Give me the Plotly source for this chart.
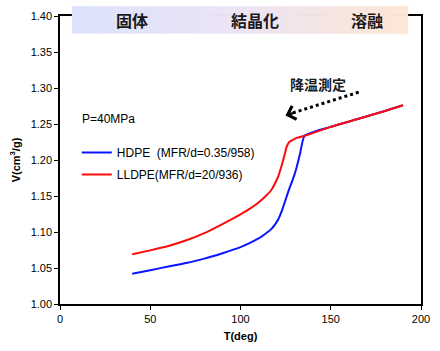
import plotly.graph_objects as go

# ---- data ----
HDPE_T = [40, 50, 60, 70, 80, 90, 100, 105, 110, 114, 117, 119, 121, 123, 125, 127, 129, 131, 133, 135.5, 150, 165, 180, 190]
HDPE_V = [1.042, 1.047, 1.052, 1.057, 1.063, 1.0705, 1.079, 1.0845, 1.091, 1.098, 1.104, 1.110, 1.118, 1.130, 1.145, 1.160, 1.173, 1.189, 1.209, 1.2336, 1.246, 1.257, 1.268, 1.276]
LLDPE_T = [40, 50, 60, 70, 80, 90, 100, 105, 110, 114, 117, 119, 121, 123, 124.5, 125.5, 127, 129, 131.5, 135.5, 150, 165, 180, 190]
LLDPE_V = [1.069, 1.0745, 1.0805, 1.0885, 1.0985, 1.111, 1.1245, 1.132, 1.141, 1.150, 1.158, 1.167, 1.178, 1.194, 1.208, 1.218, 1.225, 1.228, 1.231, 1.2336, 1.246, 1.257, 1.268, 1.276]
SERIES_NAMES = ["HDPE\u00a0\u00a0(MFR/d=0.35/958)", "LLDPE(MFR/d=20/936)"]
PHASE_LABELS = ["固体", "結晶化", "溶融"]
ARROW_LABEL = "降温測定"
PRESSURE_LABEL = "P=40MPa"
X_TICKS = [0, 50, 100, 150, 200]
Y_TICKS = [1.00, 1.05, 1.10, 1.15, 1.20, 1.25, 1.30, 1.35, 1.40]

W, H = 440, 351
ML, MR, MT, MB = 60, 15, 10, 46
PW, PH = W - ML - MR, H - MT - MB

def px_x(p):
    return (p - ML) / PW

def px_y(p):
    return (H - MB - p) / PH

fig = go.Figure()
fig.add_trace(go.Scatter(x=HDPE_T, y=HDPE_V, mode="lines", name=SERIES_NAMES[0],
                         line=dict(color="#0a14ff", width=2, shape="spline", smoothing=0.5), legendgroup="a"))
fig.add_trace(go.Scatter(x=LLDPE_T, y=LLDPE_V, mode="lines", name=SERIES_NAMES[1],
                         line=dict(color="#ff0a0a", width=2, shape="spline", smoothing=0.5), legendgroup="b"))

# gradient banner
shapes = []
x0p, x1p = 72, 412
stops = [(0.0, (219, 226, 251)), (0.5, (236, 228, 245)), (1.0, (253, 230, 211))]
def col(t):
    for (t0, c0), (t1, c1) in zip(stops[:-1], stops[1:]):
        if t <= t1:
            f = (t - t0) / (t1 - t0)
            return "rgb(%d,%d,%d)" % tuple(round(a + (b - a) * f) for a, b in zip(c0, c1))
    return "rgb(%d,%d,%d)" % stops[-1][1]
N = 170
for i in range(N):
    a = x0p + (x1p - x0p) * i / N
    b = x0p + (x1p - x0p) * (i + 1) / N + 0.6
    shapes.append(dict(type="rect", xref="paper", yref="paper",
                       x0=px_x(a), x1=px_x(min(b, x1p)), y0=px_y(28), y1=px_y(0),
                       fillcolor=col((i + 0.5) / N), line=dict(width=0), layer="above"))

# dotted arrow line
shapes.append(dict(type="line", xref="paper", yref="paper",
                   x0=px_x(362), y0=px_y(88), x1=px_x(293), y1=px_y(110),
                   line=dict(color="black", width=3, dash="dot"), layer="above"))
fig.update_layout(shapes=shapes)

ann = []
for lab, cx in zip(PHASE_LABELS, [133, 257, 370]):
    ann.append(dict(text="<b>%s</b>" % lab, xref="paper", yref="paper", x=px_x(cx), y=px_y(14),
                    showarrow=False, font=dict(family="Noto Sans CJK JP", size=16, color="#1a1a1a"),
                    xanchor="center", yanchor="middle"))
ann.append(dict(text="<b>%s</b>" % ARROW_LABEL, xref="paper", yref="paper", x=px_x(321), y=px_y(80),
                showarrow=False, font=dict(family="Noto Sans CJK JP", size=14, color="#1a1a1a"),
                xanchor="center", yanchor="middle"))
ann.append(dict(text="", xref="paper", yref="paper", x=px_x(288), y=px_y(112),
                ax=9, ay=-3, axref="pixel", ayref="pixel",
                showarrow=True, arrowhead=4, arrowsize=1.1, arrowwidth=2.5, arrowcolor="black"))
ann.append(dict(text=PRESSURE_LABEL, xref="paper", yref="paper", x=px_x(80), y=px_y(116),
                showarrow=False, font=dict(family="Liberation Sans", size=12, color="black"),
                xanchor="left", yanchor="middle"))
fig.update_layout(annotations=ann)

axis_common = dict(showline=True, linecolor="black", linewidth=1.5, mirror=True,
                   ticks="outside", ticklen=4, tickcolor="black", showgrid=False, zeroline=False,
                   tickfont=dict(family="Liberation Sans", size=11, color="black"))
fig.update_xaxes(range=[0, 200], tickvals=X_TICKS, **axis_common,
                 title=dict(text="<b>T(deg)</b>", font=dict(family="Liberation Sans", size=11, color="black"), standoff=8))
fig.update_yaxes(range=[1.0, 1.4], tickvals=Y_TICKS, tickformat=".2f", **axis_common,
                 title=dict(text="<b>V(cm<sup>3</sup>/g)</b>", font=dict(family="Liberation Sans", size=11, color="black"), standoff=8))

fig.update_layout(
    width=W, height=H, margin=dict(l=ML, r=MR, t=MT, b=MB),
    paper_bgcolor="white", plot_bgcolor="white",
    legend=dict(x=px_x(77), y=px_y(135), xanchor="left", yanchor="top",
                bgcolor="rgba(0,0,0,0)", font=dict(family="Liberation Sans", size=12, color="black"),
                tracegroupgap=3, traceorder="grouped", itemwidth=30),
    showlegend=True,
)

fig.write_html("out.html")
